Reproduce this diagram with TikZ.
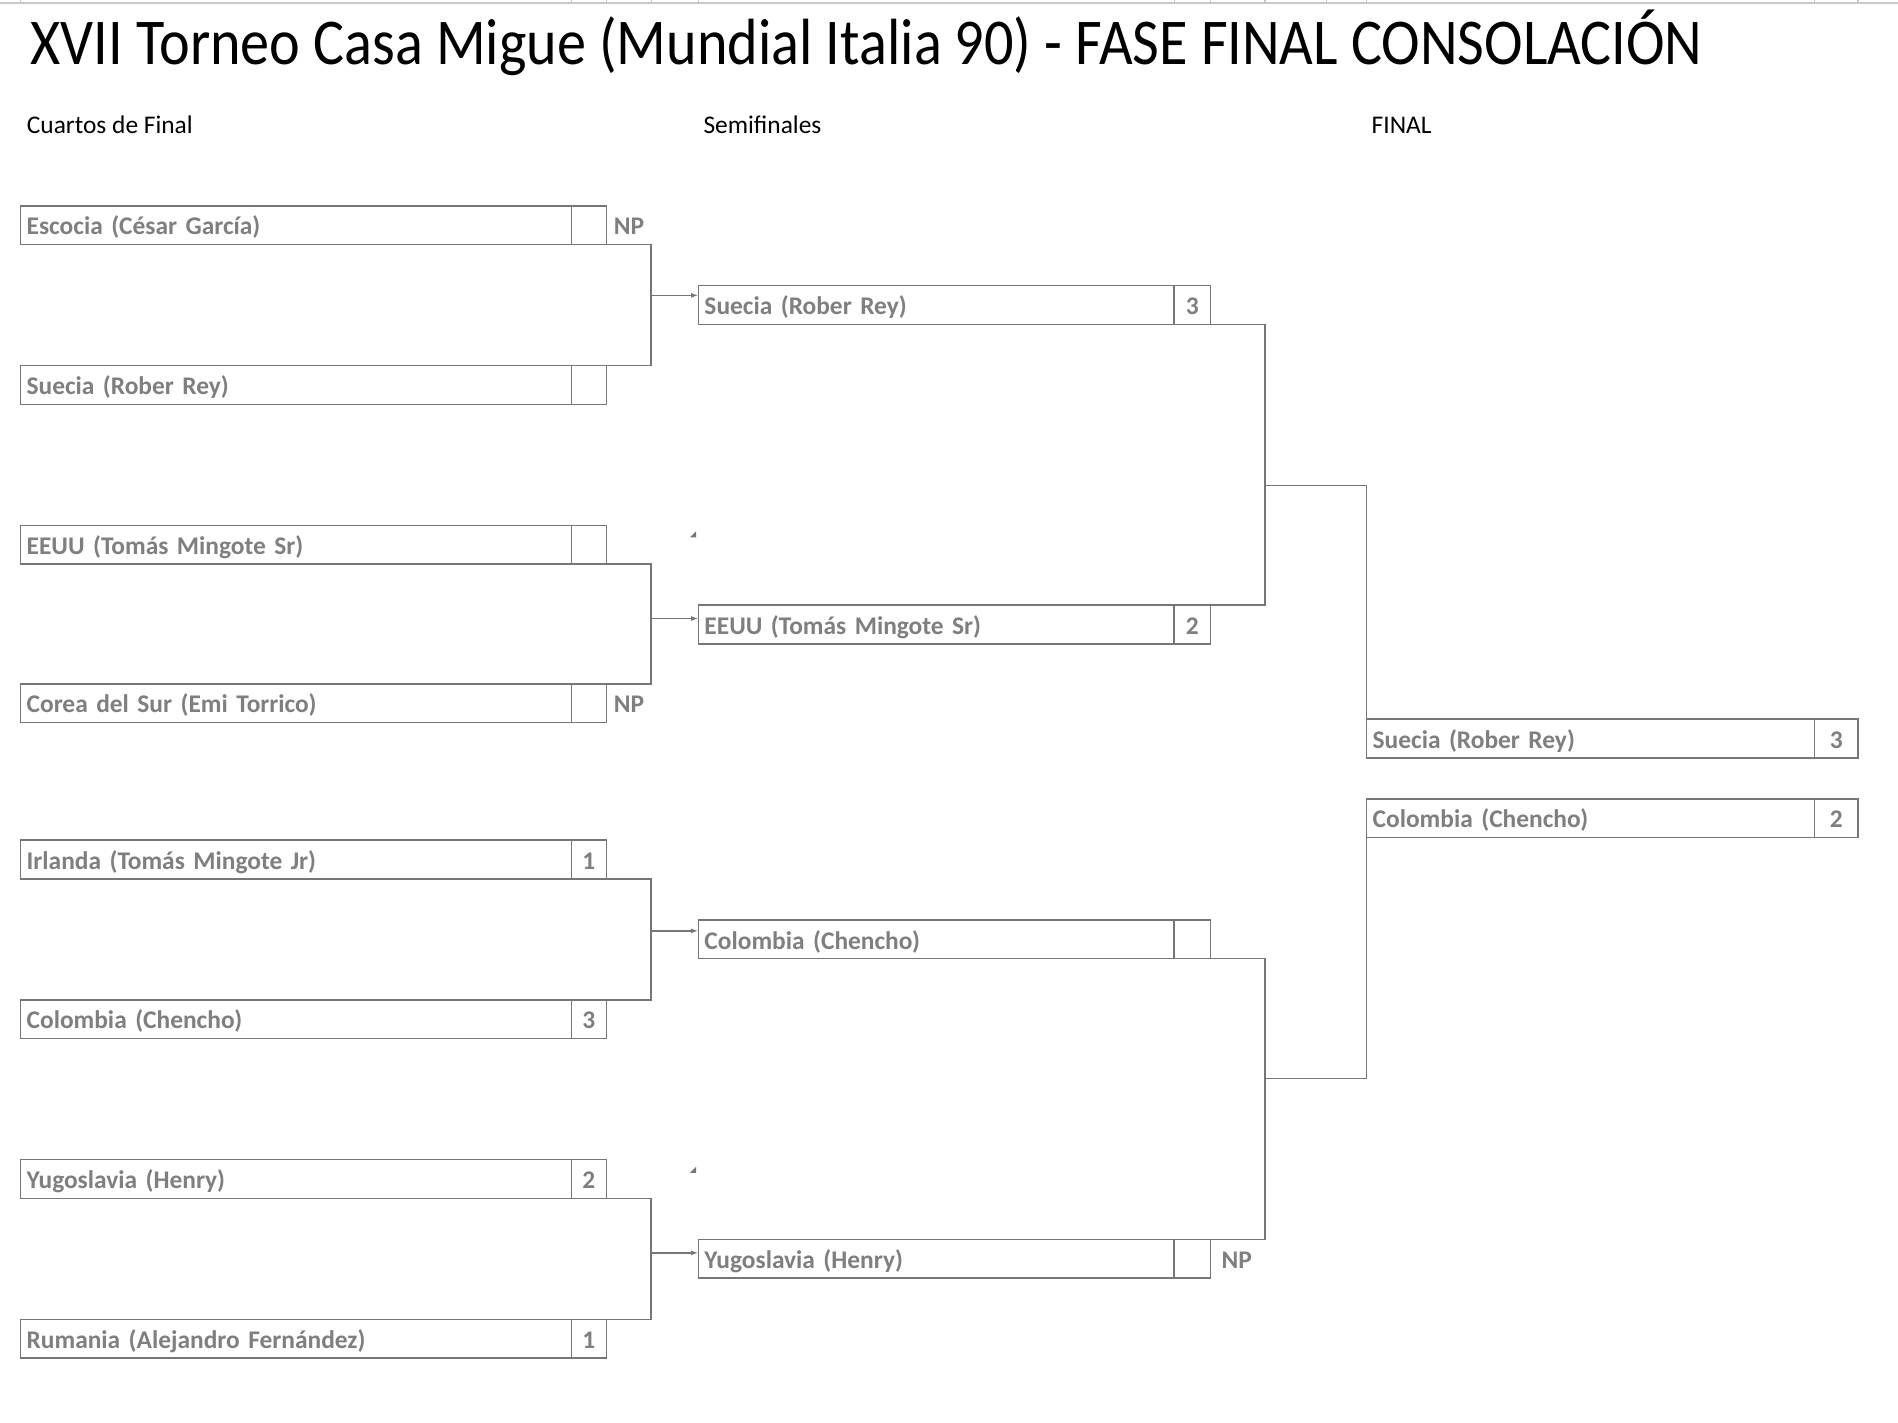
\documentclass[tikz,border=0pt]{standalone}
\usepackage{graphicx}
\usepackage{fontspec}
\setmainfont{Carlito}
\usetikzlibrary{arrows.meta}
\definecolor{ln}{RGB}{118,118,118}
\definecolor{tx}{RGB}{127,127,127}
\definecolor{gridc}{RGB}{200,200,200}
\tikzset{
  box/.style={draw=ln, line width=1.3pt, rectangle, outer sep=0pt,
    inner xsep=5pt, inner ysep=5pt, text height=19pt, text depth=3pt,
    font=\fontsize{21}{25}\selectfont\bfseries, text=tx, anchor=north west},
  qfname/.style={box, text width=445pt, align=left},
  qfscore/.style={box, minimum width=29pt, align=center},
  sfname/.style={box, text width=383pt, align=left},
  sfscore/.style={box, minimum width=30pt, align=center},
  finame/.style={box, text width=360pt, align=left},
  fiscore/.style={box, minimum width=36pt, align=center},
  conn/.style={draw=ln, line width=1.3pt},
  arr/.style={conn, -{Latex[length=6pt,width=4pt]}},
  nplabel/.style={anchor=west, inner xsep=0pt, inner ysep=5pt, text height=19pt, text depth=3pt,
    font=\fontsize{21}{25}\selectfont\bfseries, text=tx},
  stagehead/.style={anchor=base west, inner sep=0pt, font=\fontsize{21}{25}\selectfont, text=black},
  gridline/.style={draw=gridc, line width=1.6pt}
}
\newcommand\entry[6]{%
  \node[#4name] (#1) at (#2,#3) {#5};
  \node[#4score] (#1s) at (#1.north east) {#6};}
\begin{document}
\begin{tikzpicture}[x=1pt,y=-1pt]
\fill[white] (0,0) rectangle (1568,1175);
\useasboundingbox (0,0) rectangle (1568,1175);
% top grid remnant
\draw[gridline] (0,2.5) -- (1568,2.5);
\foreach \x in {17,472,501,538,577,970,1000,1045,1096,1129,1499,1535}
  \draw[draw=gridc, line width=1pt] (\x,0) -- (\x,2.5);
% title and headings
\node[anchor=base west, inner sep=0pt, font=\fontsize{54}{60}\selectfont] (title) at (25,53)
  {\scalebox{0.89}[1]{XVII Torneo Casa Migue (Mundial Italia 90) - FASE FINAL CONSOLACIÓN}};
\node[stagehead] (h1) at (22,110) {Cuartos de Final};
\node[stagehead] (h2) at (581,110) {Semifinales};
\node[stagehead] (h3) at (1133,110) {FINAL};
% quarter finals
\entry{q1}{17}{170}{qf}{Escocia (César García)}{}
\entry{q2}{17}{302}{qf}{Suecia (Rober Rey)}{}
\entry{q3}{17}{434}{qf}{EEUU (Tomás Mingote Sr)}{}
\entry{q4}{17}{565}{qf}{Corea del Sur (Emi Torrico)}{}
\entry{q5}{17}{694}{qf}{Irlanda (Tomás Mingote Jr)}{1}
\entry{q6}{17}{826}{qf}{Colombia (Chencho)}{3}
\entry{q7}{17}{958}{qf}{Yugoslavia (Henry)}{2}
\entry{q8}{17}{1090}{qf}{Rumania (Alejandro Fernández)}{1}
% semifinals
\entry{s1}{577}{236}{sf}{Suecia (Rober Rey)}{3}
\entry{s2}{577}{500}{sf}{EEUU (Tomás Mingote Sr)}{2}
\entry{s3}{577}{760}{sf}{Colombia (Chencho)}{}
\entry{s4}{577}{1024}{sf}{Yugoslavia (Henry)}{}
% final
\entry{f1}{1129}{594}{fi}{Suecia (Rober Rey)}{3}
\entry{f2}{1129}{660}{fi}{Colombia (Chencho)}{2}
% NP labels
\node[nplabel] (np1) at ([xshift=6pt]q1s.east) {NP};
\node[nplabel] (np2) at ([xshift=6pt]q4s.east) {NP};
\node[nplabel] (np3) at ([xshift=9pt]s4s.east) {NP};
% QF brackets
\draw[conn] (q1s.south east) -- ++(37,0) |- (q2s.north east);
\draw[conn] (q3s.south east) -- ++(37,0) |- (q4s.north east);
\draw[conn] (q5s.south east) -- ++(37,0) |- (q6s.north east);
\draw[conn] (q7s.south east) -- ++(37,0) |- (q8s.north east);
\coordinate (a1) at (538,244);
\coordinate (a2) at (538,511);
\coordinate (a3) at (538,769);
\coordinate (a4) at (538,1035);
\draw[arr] (a1) -- (a1 -| s1.west);
\draw[arr] (a2) -- (a2 -| s2.west);
\draw[arr] (a3) -- (a3 -| s3.west);
\draw[arr] (a4) -- (a4 -| s4.west);
% SF brackets
\draw[conn] (s1s.south east) -- ++(45,0) |- (s2s.north east);
\draw[conn] (s3s.south east) -- ++(45,0) |- (s4s.north east);
\coordinate (b1) at (1045,401);
\coordinate (b2) at (1045,891);
\draw[conn] (b1) -| (f1.north west);
\draw[conn] (b2) -| (f2.south west);
% stray small triangles
\fill[ln] (570,444) -- (575,444) -- (575,439) -- cycle;
\fill[ln] (570,969) -- (575,969) -- (575,964) -- cycle;
\end{tikzpicture}
\end{document}
